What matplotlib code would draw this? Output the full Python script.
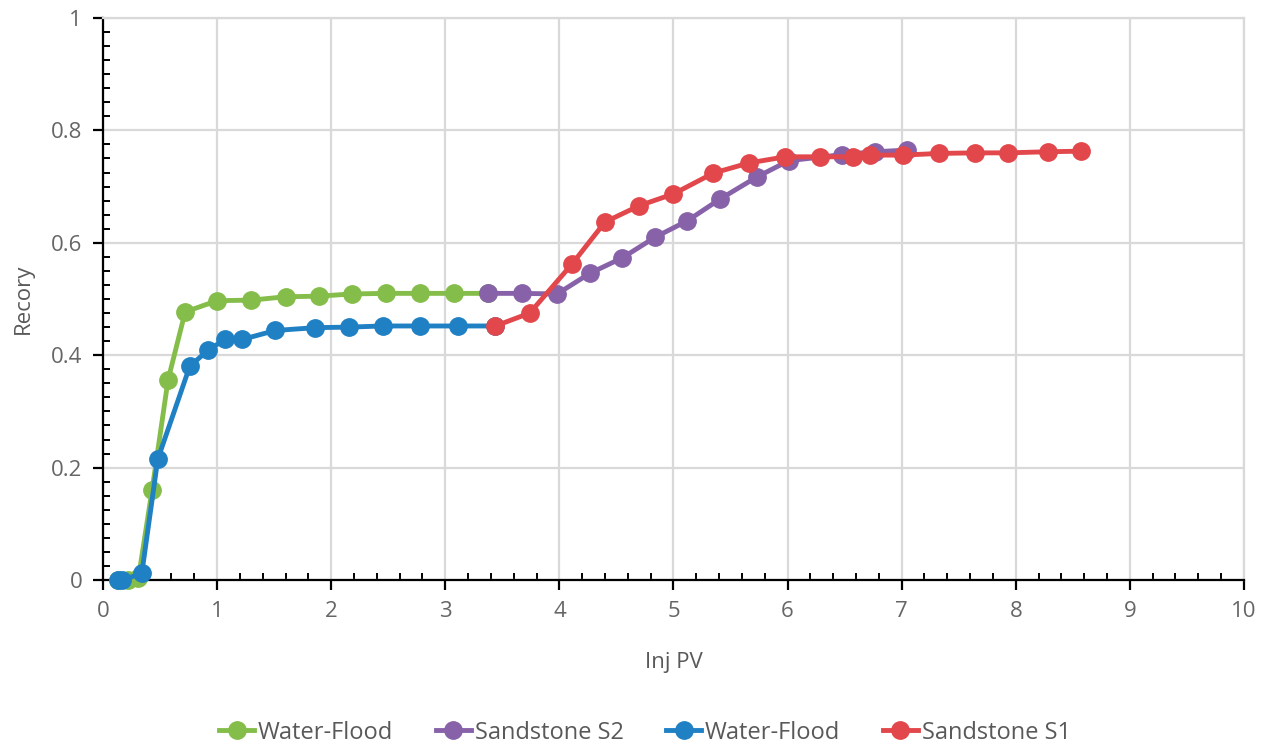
import matplotlib.pyplot as plt
from matplotlib.ticker import MultipleLocator
from matplotlib.lines import Line2D

plt.rc('font', family=['Open Sans', 'DejaVu Sans'])

# water-flood stage, first core
wf1_pv = [0.13, 0.22, 0.31, 0.43, 0.57, 0.72, 1.00, 1.30, 1.60, 1.89, 2.18, 2.48, 2.78, 3.08, 3.37]
wf1_rec = [0.000, 0.000, 0.003, 0.160, 0.356, 0.477, 0.497, 0.498, 0.504, 0.505, 0.509, 0.510, 0.510, 0.510, 0.510]

# sandstone S2 continuation
s2_pv = [3.37, 3.67, 3.98, 4.27, 4.55, 4.84, 5.12, 5.41, 5.73, 6.01, 6.48, 6.77, 7.05]
s2_rec = [0.510, 0.510, 0.509, 0.546, 0.573, 0.610, 0.639, 0.678, 0.717, 0.746, 0.757, 0.762, 0.765]

# water-flood stage, second core
wf2_pv = [0.13, 0.17, 0.34, 0.48, 0.76, 0.92, 1.07, 1.22, 1.51, 1.86, 2.16, 2.45, 2.78, 3.11, 3.44]
wf2_rec = [0.000, 0.000, 0.012, 0.215, 0.380, 0.409, 0.428, 0.428, 0.444, 0.449, 0.450, 0.452, 0.452, 0.452, 0.452]

# sandstone S1 continuation
s1_pv = [3.44, 3.74, 4.11, 4.40, 4.70, 5.00, 5.35, 5.66, 5.98, 6.28, 6.57, 6.72, 7.01, 7.33, 7.64, 7.93, 8.28, 8.57]
s1_rec = [0.452, 0.475, 0.562, 0.637, 0.666, 0.687, 0.724, 0.742, 0.753, 0.753, 0.753, 0.756, 0.756, 0.759, 0.760, 0.760, 0.762, 0.763]

series = [
    ('Water-Flood', wf1_pv, wf1_rec, '#85bd4a'),
    ('Sandstone S2', s2_pv, s2_rec, '#8762a9'),
    ('Water-Flood', wf2_pv, wf2_rec, '#2080c4'),
    ('Sandstone S1', s1_pv, s1_rec, '#e2474b'),
]

fig = plt.figure(figsize=(12.67, 7.49), dpi=100)
ax = fig.add_axes([0.0813, 0.2256, 0.9005, 0.7504])

handles = []
for name, x, y, c in series:
    ax.plot(x, y, color=c, lw=3.5, marker='o', ms=12.5, zorder=3, clip_on=False)
    handles.append(Line2D([], [], color=c, lw=3.5, marker='o', ms=12.5, label=name))

ax.set_xlim(0, 10)
ax.set_ylim(0, 1)
ax.xaxis.set_major_locator(MultipleLocator(1))
ax.xaxis.set_minor_locator(MultipleLocator(0.2))
ax.yaxis.set_major_locator(MultipleLocator(0.2))
ax.yaxis.set_minor_locator(MultipleLocator(0.025))
ax.yaxis.set_major_formatter(plt.FuncFormatter(lambda v, p: '%g' % round(v, 2)))

ax.grid(True, which='major', color='#d9d9d9', lw=1.6, zorder=0)
ax.set_axisbelow(True)
for side in ['top', 'right']:
    ax.spines[side].set_color('#d9d9d9')
    ax.spines[side].set_linewidth(1.6)
for side in ['left', 'bottom']:
    ax.spines[side].set_color('black')
    ax.spines[side].set_linewidth(1.6)

ax.tick_params(which='major', direction='out', length=7, width=1.6, colors='black',
               labelcolor='#666666', labelsize=16, pad=8)
ax.tick_params(which='minor', direction='in', length=5, width=1.4, colors='black')
ax.tick_params(top=False, right=False, which='both')

ax.set_xlabel('Inj PV', fontsize=16, color='#595959', labelpad=22)
ax.set_ylabel('Recory', fontsize=16, color='#595959', labelpad=12)

fig.legend(handles=handles, loc='center', bbox_to_anchor=(0.509, 0.022), ncol=4,
           frameon=False, fontsize=17, labelcolor='#595959', handlelength=1.5,
           handletextpad=0.15, columnspacing=1.8)

fig.savefig('out.png', dpi=100)
